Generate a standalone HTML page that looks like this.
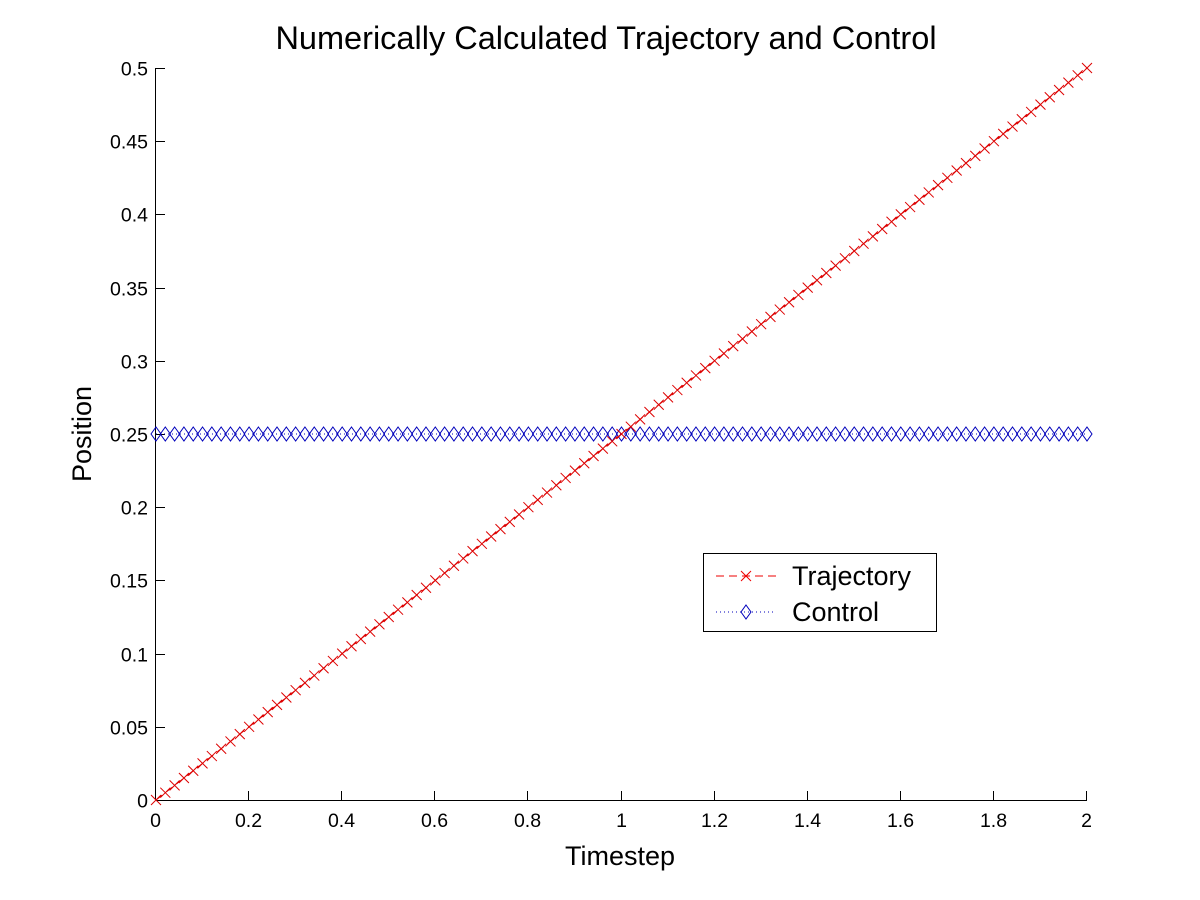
<!DOCTYPE html>
<html><head><meta charset="utf-8"><style>body{margin:0;background:#fff}svg{display:block;font-family:"Liberation Sans",Arial,sans-serif}</style></head>
<body>
<svg id="chart" width="1200" height="900">
<rect width="1200" height="900" fill="#fff"/>
<text x="606" y="49" font-size="32.5" text-anchor="middle">Numerically Calculated Trajectory and Control</text>
<text x="620" y="865" font-size="27" text-anchor="middle">Timestep</text>
<text transform="translate(91,434) rotate(-90)" font-size="27" text-anchor="middle">Position</text>
<g id="axes"></g><g id="series"></g>
<g>
<rect x="703.5" y="553.5" width="233" height="78" fill="#fff" stroke="#000"/>
<line x1="716" y1="576" x2="776" y2="576" stroke="#e00" stroke-dasharray="8,5"/>
<path d="M741 571l10 10M751 571l-10 10" stroke="#e00"/>
<text x="792" y="585" font-size="27">Trajectory</text>
<line x1="716" y1="612" x2="776" y2="612" stroke="#00b" stroke-dasharray="1,3"/>
<path d="M746 605l5 7-5 7-5-7z" fill="none" stroke="#00b"/>
<text x="792" y="621" font-size="27">Control</text>
</g>
</svg>
<script>
const xTicks=[0,0.2,0.4,0.6,0.8,1,1.2,1.4,1.6,1.8,2];
const xTickLabels=["0","0.2","0.4","0.6","0.8","1","1.2","1.4","1.6","1.8","2"];
const yTicks=[0,0.05,0.1,0.15,0.2,0.25,0.3,0.35,0.4,0.45,0.5];
const yTickLabels=["0","0.05","0.1","0.15","0.2","0.25","0.3","0.35","0.4","0.45","0.5"];
const timesteps=[0,0.02,0.04,0.06,0.08,0.1,0.12,0.14,0.16,0.18,0.2,0.22,0.24,0.26,0.28,0.3,0.32,0.34,0.36,0.38,0.4,0.42,0.44,0.46,0.48,0.5,0.52,0.54,0.56,0.58,0.6,0.62,0.64,0.66,0.68,0.7,0.72,0.74,0.76,0.78,0.8,0.82,0.84,0.86,0.88,0.9,0.92,0.94,0.96,0.98,1,1.02,1.04,1.06,1.08,1.1,1.12,1.14,1.16,1.18,1.2,1.22,1.24,1.26,1.28,1.3,1.32,1.34,1.36,1.38,1.4,1.42,1.44,1.46,1.48,1.5,1.52,1.54,1.56,1.58,1.6,1.62,1.64,1.66,1.68,1.7,1.72,1.74,1.76,1.78,1.8,1.82,1.84,1.86,1.88,1.9,1.92,1.94,1.96,1.98,2];
const trajectory=[0,0.005,0.01,0.015,0.02,0.025,0.03,0.035,0.04,0.045,0.05,0.055,0.06,0.065,0.07,0.075,0.08,0.085,0.09,0.095,0.1,0.105,0.11,0.115,0.12,0.125,0.13,0.135,0.14,0.145,0.15,0.155,0.16,0.165,0.17,0.175,0.18,0.185,0.19,0.195,0.2,0.205,0.21,0.215,0.22,0.225,0.23,0.235,0.24,0.245,0.25,0.255,0.26,0.265,0.27,0.275,0.28,0.285,0.29,0.295,0.3,0.305,0.31,0.315,0.32,0.325,0.33,0.335,0.34,0.345,0.35,0.355,0.36,0.365,0.37,0.375,0.38,0.385,0.39,0.395,0.4,0.405,0.41,0.415,0.42,0.425,0.43,0.435,0.44,0.445,0.45,0.455,0.46,0.465,0.47,0.475,0.48,0.485,0.49,0.495,0.5];
const control=[0.25,0.25,0.25,0.25,0.25,0.25,0.25,0.25,0.25,0.25,0.25,0.25,0.25,0.25,0.25,0.25,0.25,0.25,0.25,0.25,0.25,0.25,0.25,0.25,0.25,0.25,0.25,0.25,0.25,0.25,0.25,0.25,0.25,0.25,0.25,0.25,0.25,0.25,0.25,0.25,0.25,0.25,0.25,0.25,0.25,0.25,0.25,0.25,0.25,0.25,0.25,0.25,0.25,0.25,0.25,0.25,0.25,0.25,0.25,0.25,0.25,0.25,0.25,0.25,0.25,0.25,0.25,0.25,0.25,0.25,0.25,0.25,0.25,0.25,0.25,0.25,0.25,0.25,0.25,0.25,0.25,0.25,0.25,0.25,0.25,0.25,0.25,0.25,0.25,0.25,0.25,0.25,0.25,0.25,0.25,0.25,0.25,0.25,0.25,0.25,0.25];

const X0=156,X1=1087,Y0=800,Y1=68;
const xs=v=>X0+(v-0)/(2-0)*(X1-X0);
const ys=v=>Y0-(v-0)/(0.5-0)*(Y0-Y1);
const NS="http://www.w3.org/2000/svg";
function mk(t,a,p){const e=document.createElementNS(NS,t);for(const k in a)e.setAttribute(k,a[k]);p.appendChild(e);return e;}
const ax=document.getElementById('axes'),sr=document.getElementById('series');
const xl=mk('line',{x1:X0,y1:Y0+0.5,x2:X1,y2:Y0+0.5,stroke:'#000'},ax);


const yl=mk('line',{x1:X0-0.5,y1:Y0,x2:X0-0.5,y2:Y1,stroke:'#000'},ax);


xTicks.forEach((v,i)=>{const x=Math.round(xs(v))-0.5;
 mk('line',{x1:x,y1:Y0,x2:x,y2:Y0-9,stroke:'#000'},ax);
 const t=mk('text',{x:x,y:Y0+27,'font-size':19.5,'text-anchor':'middle'},ax);t.textContent=xTickLabels[i];
 
 });
yTicks.forEach((v,i)=>{const y=Math.round(ys(v))+0.5;
 mk('line',{x1:X0,y1:y,x2:X0+9,y2:y,stroke:'#000'},ax);
 const t=mk('text',{x:X0-8,y:y+7,'font-size':19.5,'text-anchor':'end'},ax);t.textContent=yTickLabels[i];
 
 });
const pc=mk('polyline',{points:timesteps.map((t,i)=>xs(t)+','+ys(control[i])).join(' '),fill:'none',stroke:'#00b','stroke-dasharray':'1,3'},sr);


timesteps.forEach((t,i)=>{const x=xs(t),y=ys(control[i]);
 const m=mk('path',{d:`M${x} ${y-7}l5 7-5 7-5-7z`,fill:'none',stroke:'#00b'},sr);
 
 });
const pt=mk('polyline',{points:timesteps.map((t,i)=>xs(t)+','+ys(trajectory[i])).join(' '),fill:'none',stroke:'#d00','stroke-dasharray':'8,5'},sr);


timesteps.forEach((t,i)=>{const x=xs(t),y=ys(trajectory[i]);
 const m=mk('path',{d:`M${x-5} ${y-5}l10 10M${x+5} ${y-5}l-10 10`,stroke:'#d00'},sr);
 
 });
</script>
</body></html>
